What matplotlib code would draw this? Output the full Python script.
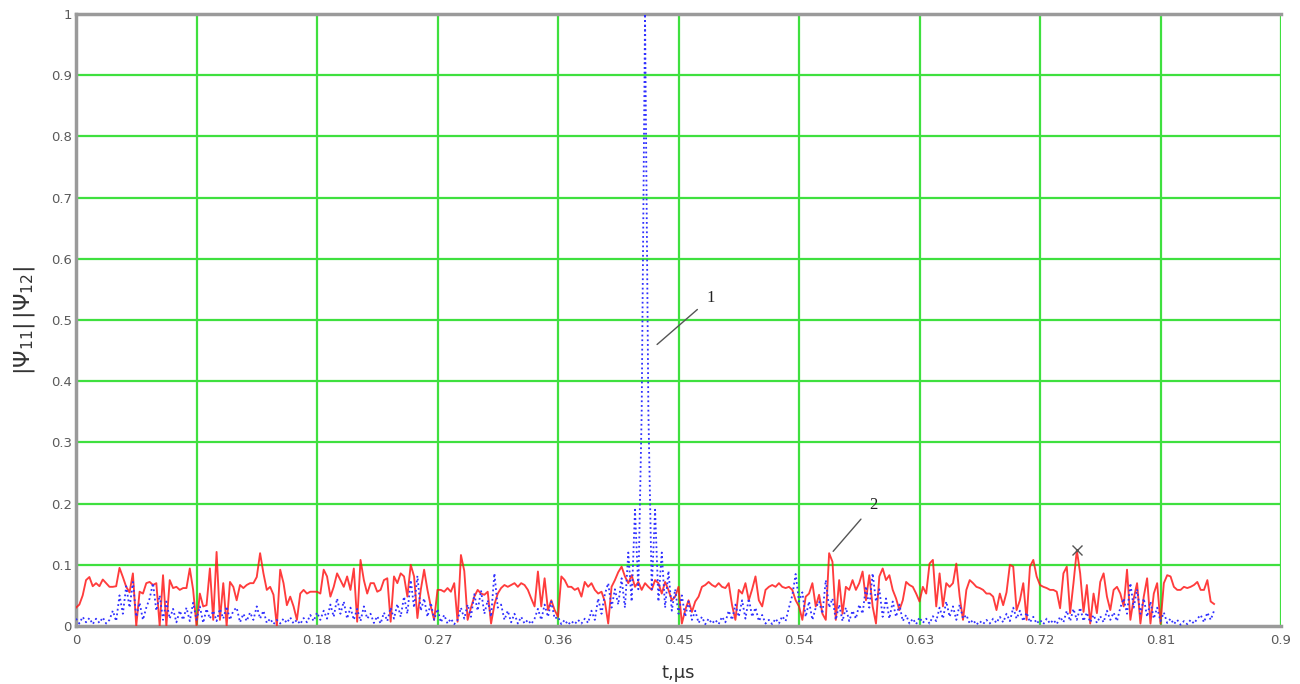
import numpy as np
import matplotlib
matplotlib.use("Agg")
import matplotlib.pyplot as plt

DT = 0.0025  # sample step, microseconds

# Curve 2 (red, solid) |Psi12|
red_v = [
    0.030, 0.035, 0.050, 0.075, 0.080, 0.065, 0.070, 0.065, 0.076, 0.070,
    0.064, 0.064, 0.065, 0.095, 0.080, 0.064, 0.055, 0.086, 0.000, 0.056,
    0.053, 0.070, 0.072, 0.067, 0.070, 0.000, 0.083, 0.000, 0.075, 0.062,
    0.064, 0.059, 0.062, 0.062, 0.094, 0.059, 0.000, 0.053, 0.032, 0.034,
    0.094, 0.010, 0.121, 0.010, 0.070, 0.000, 0.072, 0.064, 0.042, 0.067,
    0.062, 0.067, 0.070, 0.070, 0.080, 0.119, 0.086, 0.059, 0.064, 0.051,
    0.000, 0.092, 0.070, 0.034, 0.048, 0.032, 0.010, 0.053, 0.059, 0.053,
    0.056, 0.056, 0.056, 0.053, 0.092, 0.081, 0.048, 0.064, 0.086, 0.075,
    0.064, 0.081, 0.059, 0.094, 0.007, 0.108, 0.075, 0.053, 0.070, 0.070,
    0.056, 0.059, 0.075, 0.078, 0.007, 0.081, 0.070, 0.086, 0.081, 0.048,
    0.100, 0.081, 0.013, 0.059, 0.092, 0.059, 0.032, 0.010, 0.059, 0.059,
    0.056, 0.062, 0.056, 0.070, 0.007, 0.116, 0.090, 0.010, 0.030, 0.048,
    0.059, 0.053, 0.051, 0.056, 0.004, 0.035, 0.053, 0.062, 0.067, 0.064,
    0.067, 0.070, 0.064, 0.070, 0.067, 0.059, 0.045, 0.032, 0.089, 0.032,
    0.078, 0.026, 0.042, 0.026, 0.015, 0.081, 0.075, 0.064, 0.064, 0.059,
    0.062, 0.048, 0.072, 0.064, 0.070, 0.059, 0.053, 0.056, 0.040, 0.004,
    0.064, 0.075, 0.088, 0.097, 0.081, 0.070, 0.083, 0.064, 0.072, 0.059,
    0.070, 0.064, 0.059, 0.075, 0.070, 0.053, 0.072, 0.059, 0.042, 0.048,
    0.064, 0.004, 0.026, 0.042, 0.023, 0.040, 0.048, 0.064, 0.067, 0.072,
    0.067, 0.064, 0.070, 0.064, 0.062, 0.070, 0.034, 0.010, 0.059, 0.053,
    0.070, 0.042, 0.060, 0.081, 0.042, 0.032, 0.059, 0.064, 0.067, 0.064,
    0.070, 0.064, 0.062, 0.064, 0.059, 0.042, 0.032, 0.010, 0.048, 0.053,
    0.070, 0.032, 0.051, 0.020, 0.010, 0.119, 0.105, 0.010, 0.075, 0.020,
    0.064, 0.059, 0.075, 0.059, 0.070, 0.089, 0.042, 0.083, 0.032, 0.004,
    0.081, 0.094, 0.075, 0.083, 0.059, 0.045, 0.026, 0.042, 0.072, 0.067,
    0.064, 0.053, 0.040, 0.064, 0.053, 0.102, 0.108, 0.032, 0.086, 0.032,
    0.070, 0.064, 0.070, 0.102, 0.048, 0.010, 0.059, 0.075, 0.070, 0.064,
    0.062, 0.059, 0.053, 0.053, 0.048, 0.026, 0.053, 0.034, 0.055, 0.100,
    0.097, 0.026, 0.042, 0.070, 0.010, 0.097, 0.108, 0.081, 0.067, 0.064,
    0.062, 0.059, 0.059, 0.056, 0.029, 0.086, 0.097, 0.021, 0.070, 0.124,
    0.086, 0.023, 0.067, 0.004, 0.053, 0.021, 0.072, 0.086, 0.048, 0.026,
    0.059, 0.064, 0.053, 0.032, 0.092, 0.010, 0.045, 0.070, 0.004, 0.048,
    0.078, 0.004, 0.053, 0.070, 0.004, 0.070, 0.083, 0.081, 0.064, 0.059,
    0.059, 0.064, 0.062, 0.064, 0.067, 0.072, 0.059, 0.059, 0.075, 0.040,
    0.036,
]

# Curve 1 (blue, dotted) |Psi11|
blue_v = [
    0.012, 0.004, 0.015, 0.006, 0.013, 0.003, 0.012, 0.005, 0.014, 0.004, 0.010,
    0.025, 0.008, 0.050, 0.020, 0.065, 0.030, 0.072,
    0.015, 0.038, 0.010, 0.030, 0.045,
    0.070, 0.025, 0.050, 0.010, 0.040,
    0.012, 0.028, 0.006, 0.025, 0.010, 0.030, 0.008,
    0.038, 0.010, 0.032, 0.005, 0.028, 0.012,
    0.025, 0.008, 0.028, 0.012, 0.032, 0.010, 0.025, 0.030, 0.006, 0.020,
    0.008, 0.022, 0.010, 0.032, 0.012, 0.025, 0.005,
    0.012, 0.003, 0.010, 0.004, 0.012, 0.005, 0.014, 0.004, 0.010, 0.003, 0.013,
    0.006, 0.018, 0.008, 0.022, 0.010, 0.025, 0.012,
    0.035, 0.015, 0.045, 0.020, 0.040, 0.012, 0.030,
    0.010, 0.028, 0.008, 0.032, 0.012, 0.020, 0.005,
    0.016, 0.004, 0.022, 0.008, 0.030, 0.012, 0.036, 0.015,
    0.048, 0.020, 0.075, 0.030, 0.082, 0.025, 0.045,
    0.015, 0.038, 0.010, 0.028, 0.006, 0.018,
    0.004, 0.012, 0.003, 0.010,
    0.030, 0.012, 0.035, 0.015,
    0.052, 0.025, 0.058, 0.020, 0.042,
    0.015, 0.086, 0.030,
    0.035, 0.010, 0.025, 0.006, 0.020, 0.004, 0.015,
    0.004, 0.010, 0.003, 0.012,
    0.028, 0.010, 0.035, 0.015, 0.040, 0.012,
    0.015, 0.003, 0.010, 0.002, 0.008, 0.003, 0.010, 0.004, 0.012, 0.005,
    0.025, 0.010, 0.045, 0.020, 0.052,
    0.070, 0.030, 0.060, 0.035,
    0.078, 0.030, 0.120, 0.040, 0.190, 0.060, 0.350, 1.000, 0.350, 0.060, 0.190, 0.040, 0.120, 0.030, 0.090,
    0.025, 0.060, 0.020, 0.050, 0.015, 0.040, 0.010,
    0.025, 0.005, 0.015, 0.003, 0.012, 0.004, 0.010, 0.003, 0.015, 0.006,
    0.025, 0.010, 0.035, 0.015, 0.042, 0.012, 0.045, 0.015, 0.030,
    0.008, 0.018, 0.004, 0.010, 0.003, 0.012, 0.004, 0.016, 0.008, 0.030,
    0.050, 0.085, 0.040,
    0.055, 0.015, 0.040, 0.010, 0.030,
    0.040, 0.020, 0.075, 0.030,
    0.045, 0.010, 0.035, 0.008,
    0.030, 0.008, 0.025, 0.012, 0.035, 0.020,
    0.065, 0.030, 0.086, 0.040, 0.060, 0.015,
    0.045, 0.012, 0.040, 0.015, 0.035, 0.008,
    0.018, 0.004, 0.012, 0.003, 0.014, 0.005, 0.012, 0.004, 0.016,
    0.008, 0.030, 0.012, 0.040, 0.015, 0.032, 0.010, 0.035, 0.012,
    0.018, 0.004, 0.010, 0.002, 0.008, 0.003, 0.010, 0.004, 0.012, 0.005, 0.015, 0.006,
    0.020, 0.008, 0.030, 0.012, 0.025, 0.008, 0.022, 0.006, 0.015, 0.004,
    0.010, 0.003, 0.012, 0.004, 0.010, 0.003, 0.015, 0.006,
    0.025, 0.008, 0.028, 0.010, 0.030, 0.008, 0.022, 0.006,
    0.018, 0.005, 0.016, 0.006, 0.025, 0.010, 0.022, 0.008, 0.030,
    0.045, 0.020, 0.070, 0.030, 0.060, 0.020, 0.045, 0.015,
    0.040, 0.012, 0.030, 0.008, 0.022, 0.005,
    0.012, 0.003, 0.010, 0.002, 0.008, 0.003, 0.010, 0.004, 0.012,
    0.018, 0.006, 0.022, 0.010, 0.025,
]

x_ticks = [0, 0.09, 0.18, 0.27, 0.36, 0.45, 0.54, 0.63, 0.72, 0.81, 0.9]
x_tick_labels = ["0", "0.09", "0.18", "0.27", "0.36", "0.45", "0.54", "0.63", "0.72", "0.81", "0.9"]
y_ticks = [0, 0.1, 0.2, 0.3, 0.4, 0.5, 0.6, 0.7, 0.8, 0.9, 1.0]
y_tick_labels = ["0", "0.1", "0.2", "0.3", "0.4", "0.5", "0.6", "0.7", "0.8", "0.9", "1"]

t_red = np.arange(len(red_v)) * DT
t_blue = np.arange(len(blue_v)) * DT
red = np.array(red_v)
blue = np.array(blue_v)

fig = plt.figure(figsize=(13, 6.84), dpi=100)
ax = fig.add_axes([76 / 1300, 1 - 626 / 684, (1281 - 76) / 1300, (626 - 14) / 684])
ax.set_xlim(0, 0.9)
ax.set_ylim(0, 1)

grid_c = "#3fe03f"
for xv in x_ticks[1:]:
    ax.axvline(xv, color=grid_c, lw=1.6, zorder=1)
for yv in y_ticks[1:-1]:
    ax.axhline(yv, color=grid_c, lw=1.6, zorder=1)

ax.plot(t_red, red, color="#ff1a1a", lw=1.35, alpha=0.85, zorder=3)
ax.plot(t_blue, blue, color="#3030ff", lw=1.3, linestyle=(0, (1, 1.6)), zorder=4)

# x marker on the maximum of curve 2
im = int(np.argmax(red))
ax.plot(t_red[im], red[im], marker="x", color="#555555", ms=7, mew=1.0, zorder=5)

# curve labels with leader lines
ib = int(np.argmax(blue))
ax.annotate("1", xy=(t_blue[ib] + 0.009, 0.46), xytext=(t_blue[ib] + 0.049, 0.536),
            fontsize=12, family="Liberation Serif", color="#222222",
            ha="center", va="center",
            arrowprops=dict(arrowstyle="-", color="#555555", lw=1.0, shrinkB=0, shrinkA=6))
ir = int(np.argmax(red[200:260])) + 200
ax.annotate("2", xy=(t_red[ir] + 0.003, red[ir] + 0.003), xytext=(t_red[ir] + 0.033, 0.198),
            fontsize=12, family="Liberation Serif", color="#222222",
            ha="center", va="center",
            arrowprops=dict(arrowstyle="-", color="#555555", lw=1.0, shrinkB=0, shrinkA=6))

for side in ["left", "top", "bottom"]:
    ax.spines[side].set_color("#9a9a9a")
    ax.spines[side].set_linewidth(2.5)
ax.spines["right"].set_visible(False)

ax.set_xticks(x_ticks)
ax.set_xticklabels(x_tick_labels)
ax.set_yticks(y_ticks)
ax.set_yticklabels(y_tick_labels)
ax.tick_params(length=0, labelsize=9.5, labelcolor="#5a5a5a")
ax.tick_params(axis="x", pad=6)
ax.tick_params(axis="y", pad=3)

ax.set_xlabel("t,\u03bcs", fontsize=13, color="#333333", labelpad=12)
ax.set_ylabel(r"$|\Psi_{11}|\,|\Psi_{12}|$", fontsize=16, color="#333333", labelpad=10)

fig.savefig("out.png", dpi=100)
